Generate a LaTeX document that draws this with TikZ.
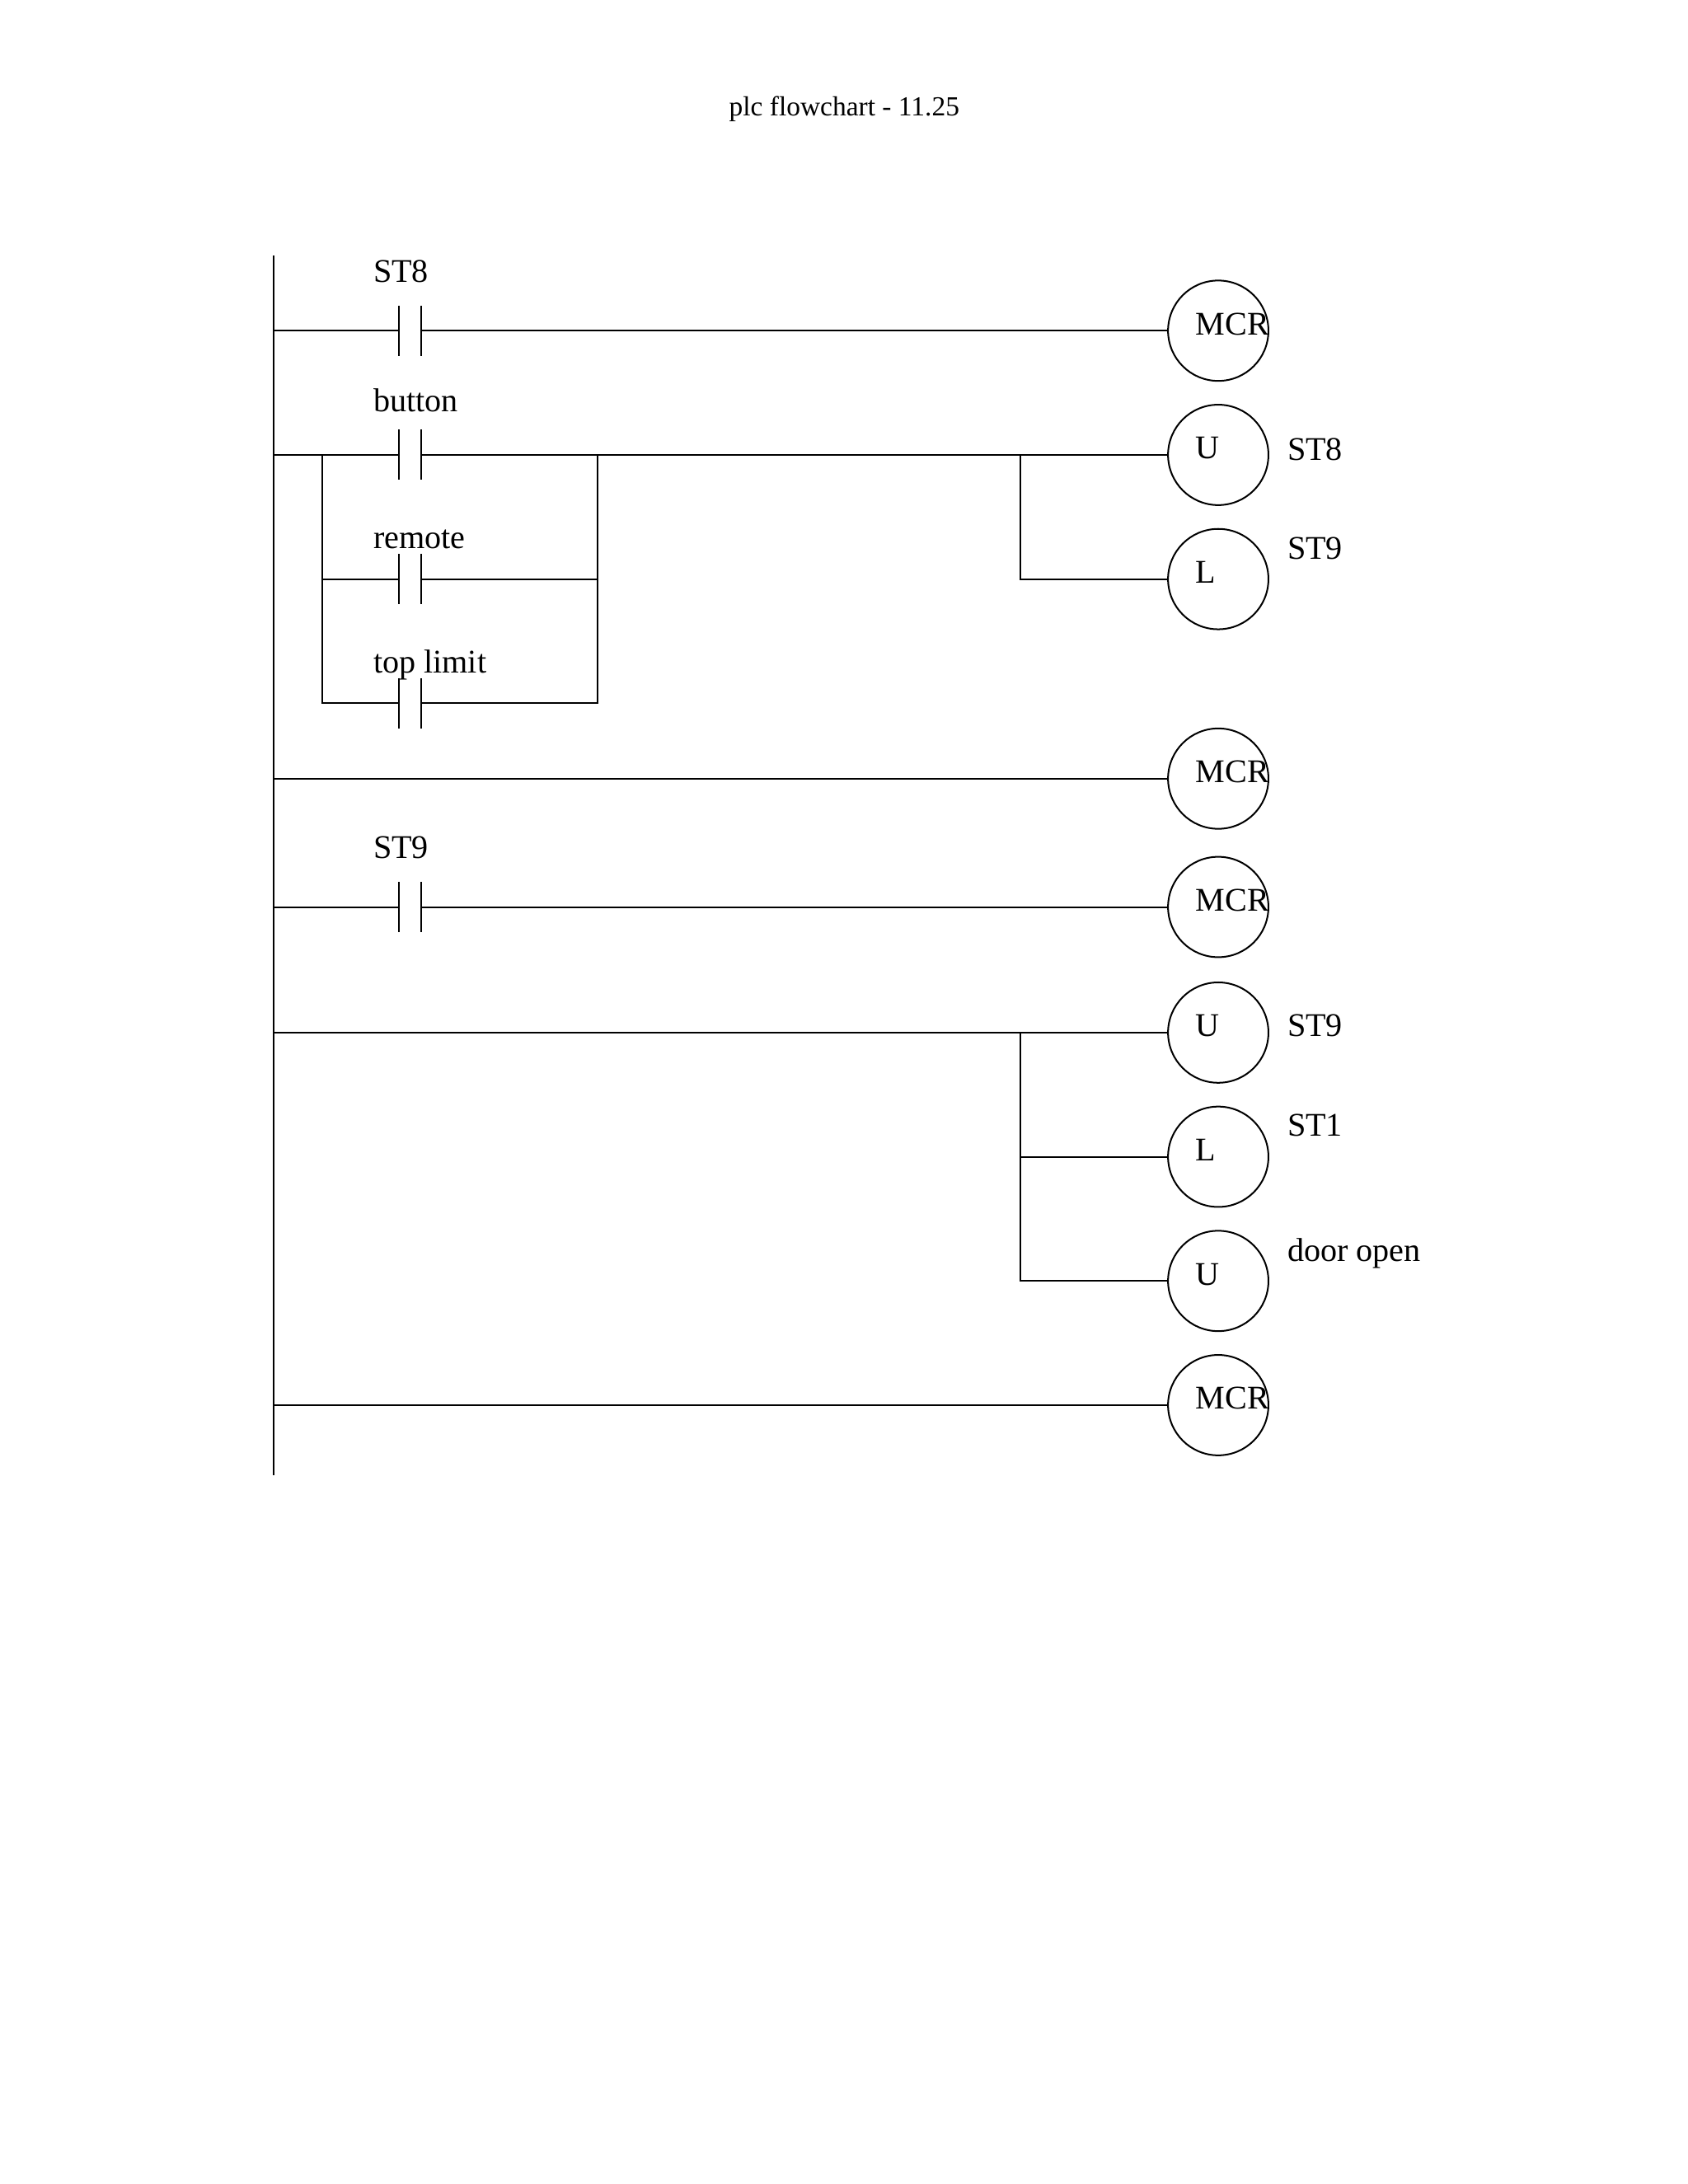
\documentclass[tikz,border=0pt]{standalone}
\usepackage{fontspec}
\setmainfont{Liberation Serif}
\begin{document}
\begin{tikzpicture}[x=0.506pt,y=-0.506pt,line width=0.6pt,
    coil/.style={circle,draw,minimum size=36.4pt,inner sep=0pt},
    lbl/.style={font=\fontsize{12}{14}\selectfont,anchor=base west,inner sep=0pt},
    clbl/.style={font=\fontsize{12}{14}\selectfont,anchor=base west,inner sep=0pt}]
    \useasboundingbox (0,0) rectangle (1209.5,1565.2);
    \node[font=\fontsize{10}{12}\selectfont] (title) at (605,78) {plc flowchart - 11.25};
    %Skinne
        \coordinate (top) at (196,183);
        \coordinate (bot) at (196,1057);
        \draw (top)--(bot);
    %Spoler
        \foreach \n/\y/\t in {m1/237/MCR,u1/326/U,l1/415/L,m2/558/MCR,m3/650/MCR,u2/740/U,l2/829/L,u3/918/U,m4/1007/MCR}{
            \node[coil] (\n) at (873,\y) {};
            \node[clbl] at ([xshift=-8.5pt,yshift=-1.5pt]\n.center) {\t};
        }
        \node[lbl] at (922,330) {ST8};
        \node[lbl] at (922,401) {ST9};
        \node[lbl] at (922,743) {ST9};
        \node[lbl] at (922,814) {ST1};
        \node[lbl] at (922,904) {door open};
    %Kontakter
        \foreach \n/\x/\y/\ly/\t in {c1/286/237/202/ST8,c2/286/326/295/button,c3/286/415/393/remote,c4/286/504/482/top limit,c5/286/650/615/ST9}{
            \coordinate (\n a) at (\x,\y);
            \coordinate (\n b) at (\x+16,\y);
            \draw (\x,\y-18)--(\x,\y+18);
            \draw (\x+16,\y-18)--(\x+16,\y+18);
            \node[lbl] at (267,\ly) {\t};
        }
    %Trinn
        \draw (196,237)--(c1a) (c1b)--(m1.west);
        \draw (196,326)--(c2a) (c2b)--(u1.west);
        \draw (231,326)--(231,504)--(c4a) (c4b)--(428,504)--(428,326);
        \draw (231,415)--(c3a) (c3b)--(428,415);
        \draw (731,326)--(731,415)--(l1.west);
        \draw (196,558)--(m2.west);
        \draw (196,650)--(c5a) (c5b)--(m3.west);
        \draw (196,740)--(u2.west);
        \draw (731,740)--(731,918)--(u3.west);
        \draw (731,829)--(l2.west);
        \draw (196,1007)--(m4.west);
\end{tikzpicture}
\end{document}
